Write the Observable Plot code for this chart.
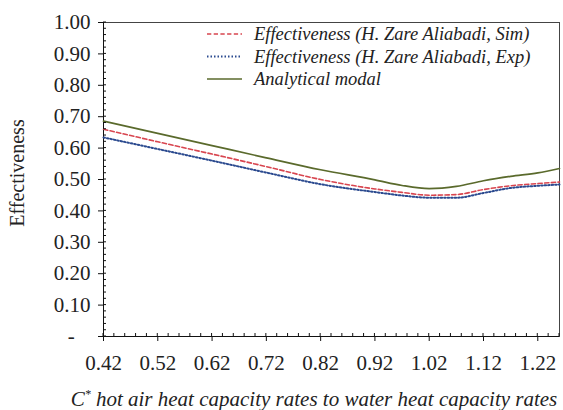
<!DOCTYPE html>
<html>
<head>
<meta charset="utf-8">
<script src="https://cdn.jsdelivr.net/npm/d3@7"></script>
<script src="https://cdn.jsdelivr.net/npm/@observablehq/plot@0.6"></script>
<style>
  html, body { margin: 0; padding: 0; background: #fff; }
  #chart svg { display: block; }
  #chart svg text { font-family: "Liberation Serif", "Times New Roman", serif; }
</style>
</head>
<body>
<div id="chart"></div>
<script>
// Heat capacity ratio C* (hot air / water)
const capacityRatio = [0.42, 0.52, 0.62, 0.72, 0.82, 0.92, 0.97, 1.02, 1.07, 1.12, 1.17, 1.22, 1.26];
// Effectiveness, simulation (H. Zare Aliabadi)
const simEffectiveness = [0.660, 0.620, 0.581, 0.541, 0.500, 0.470, 0.459, 0.450, 0.452, 0.468, 0.480, 0.487, 0.492];
// Effectiveness, experiment (H. Zare Aliabadi)
const expEffectiveness = [0.634, 0.597, 0.560, 0.522, 0.485, 0.460, 0.449, 0.442, 0.442, 0.457, 0.473, 0.480, 0.484];
// Effectiveness, analytical model
const analyticalEffectiveness = [0.686, 0.647, 0.608, 0.569, 0.531, 0.499, 0.481, 0.471, 0.478, 0.496, 0.510, 0.521, 0.535];

const xTicks = [0.42, 0.52, 0.62, 0.72, 0.82, 0.92, 1.02, 1.12, 1.22];
const yTicks = [0, 0.1, 0.2, 0.3, 0.4, 0.5, 0.6, 0.7, 0.8, 0.9, 1.0];
const seriesNames = [
  "Effectiveness (H. Zare Aliabadi, Sim)",
  "Effectiveness (H. Zare Aliabadi, Exp)",
  "Analytical modal"
];

const colors = { sim: "#d8454f", exp: "#2b4a8f", model: "#5a6a2c" };
const dashes = { sim: "4.3,2.4", exp: "1.5,2", model: null };

const rows = capacityRatio.map((c, i) => ({
  c, sim: simEffectiveness[i], exp: expEffectiveness[i], model: analyticalEffectiveness[i]
}));

const plot = Plot.plot({
  width: 563,
  height: 410,
  marginLeft: 103,
  marginRight: 4,
  marginTop: 22,
  marginBottom: 74,
  style: { fontFamily: "Liberation Serif", fontSize: "21px", color: "#222", background: "#fff" },
  x: { domain: [0.42, 1.26] },
  y: { domain: [0, 1] },
  marks: [
    Plot.frame({ stroke: "#444", strokeWidth: 1 }),
    Plot.axisX({
      ticks: xTicks, tickFormat: d => d.toFixed(2), tickSize: 5, tickPadding: 14,
      label: null, stroke: "#111", fontSize: 21
    }),
    Plot.axisY({
      ticks: yTicks, tickFormat: d => d === 0 ? "-\u00a0\u00a0\u00a0" : d.toFixed(2),
      tickSize: 5, tickPadding: 8, label: null, stroke: "#111", fontSize: 21
    }),
    Plot.ruleX([0.42], { stroke: "#111" }),
    Plot.ruleY([0], { stroke: "#111" }),
    Plot.line(rows, { x: "c", y: "model", stroke: colors.model, strokeWidth: 1.7, curve: "monotone-x" }),
    Plot.line(rows, { x: "c", y: "sim", stroke: colors.sim, strokeWidth: 1.6, strokeDasharray: dashes.sim, curve: "monotone-x" }),
    Plot.line(rows, { x: "c", y: "exp", stroke: colors.exp, strokeWidth: 2, strokeDasharray: dashes.exp, curve: "monotone-x" })
  ]
});

const svg = d3.select(plot);
const xs = plot.scale("x");
const ys = plot.scale("y");

// Minor ticks every 0.02, pointing into the plot
const minorX = d3.range(0.42, 1.2601, 0.02);
const minorY = d3.range(0, 1.0001, 0.02);
const minor = svg.append("g").attr("stroke", "#111").attr("stroke-width", 1);
minor.selectAll(".mx").data(minorX).join("line")
  .attr("x1", d => xs.apply(d)).attr("x2", d => xs.apply(d))
  .attr("y1", ys.apply(0)).attr("y2", ys.apply(0) - 3);
minor.selectAll(".my").data(minorY).join("line")
  .attr("y1", d => ys.apply(d)).attr("y2", d => ys.apply(d))
  .attr("x1", xs.apply(0.42)).attr("x2", xs.apply(0.42) + 3);

// Axis titles
svg.append("text")
  .attr("transform", "translate(17,173) rotate(-90)")
  .attr("text-anchor", "middle").attr("dy", "0.35em")
  .attr("font-size", 20).attr("fill", "#222")
  .text("Effectiveness");

const xTitle = svg.append("text")
  .attr("x", 314).attr("y", 406)
  .attr("text-anchor", "middle")
  .attr("font-size", 21).attr("font-style", "italic").attr("fill", "#222");
xTitle.append("tspan").text("C");
xTitle.append("tspan").attr("font-size", 12).attr("dy", -8).text("*");
xTitle.append("tspan").attr("dy", 8).text(" hot air heat capacity rates to water heat capacity rates");

// Legend
const legendKeys = ["sim", "exp", "model"];
const legend = svg.append("g").attr("font-size", 18.5)
  .attr("font-style", "italic").attr("fill", "#222").attr("text-anchor", "start");
seriesNames.forEach((name, i) => {
  const y = 34 + i * 22.5;
  const k = legendKeys[i];
  legend.append("line")
    .attr("x1", 207).attr("x2", 242).attr("y1", y).attr("y2", y)
    .attr("stroke", colors[k]).attr("stroke-width", k === "exp" ? 1.8 : 1.3)
    .attr("stroke-dasharray", dashes[k]);
  legend.append("text").attr("x", 254).attr("y", y).attr("dy", "0.35em").text(name);
});

document.getElementById("chart").appendChild(plot);
</script>
</body>
</html>
